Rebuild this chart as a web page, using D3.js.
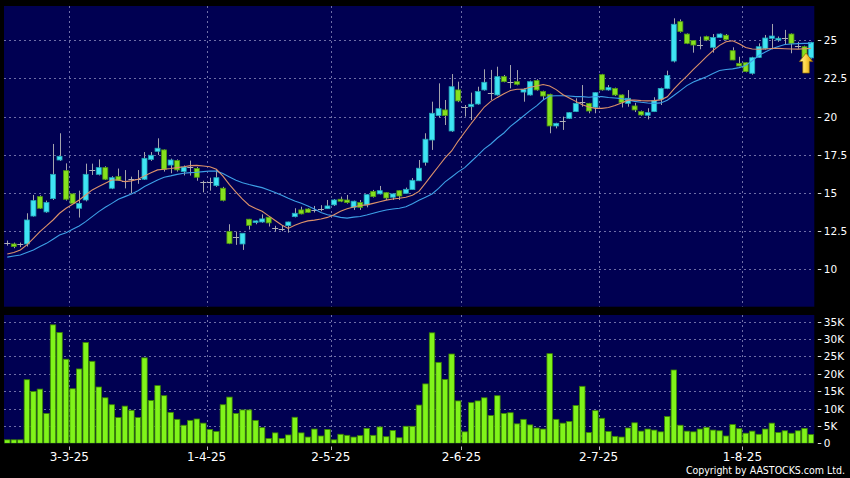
<!DOCTYPE html>
<html><head><meta charset="utf-8">
<script src="https://cdn.jsdelivr.net/npm/d3@7"></script>
<style>
html,body{margin:0;padding:0;background:#000;}
svg{display:block;}
text{font-family:"DejaVu Sans",Verdana,sans-serif;fill:#fff;}
text.copy{font-family:"Liberation Sans Narrow","DejaVu Sans Condensed",sans-serif;}
</style></head><body>
<svg id="c" width="850" height="478"></svg>
<script>
const opens=[11.70,11.66,11.64,11.66,13.49,14.76,13.76,14.63,17.16,16.46,
14.94,14.00,14.54,16.50,16.22,16.66,15.31,16.07,15.79,15.92,
15.92,15.90,17.20,17.73,17.82,16.83,17.12,16.40,16.68,16.60,
15.72,15.72,15.48,15.31,12.47,12.10,11.66,13.28,13.06,13.10,
13.41,12.69,12.66,12.86,13.45,13.89,13.95,13.89,13.97,13.97,
14.22,14.59,14.54,14.06,14.37,14.22,15.09,14.94,15.02,14.72,
15.15,14.98,15.22,15.80,17.01,18.47,20.07,20.44,19.06,21.75,
20.61,20.65,20.83,21.75,21.57,21.42,22.62,22.29,22.29,21.61,
21.42,22.36,21.64,21.46,19.39,19.72,19.89,20.33,20.98,20.87,
20.61,22.75,21.75,21.85,21.42,20.87,20.70,20.33,20.09,20.33,
21.13,21.85,23.64,26.22,25.41,24.98,24.71,25.24,24.54,25.19,
25.33,24.32,23.49,23.53,22.84,23.88,24.45,25.13,25.02,25.13,
25.41,24.65,24.58,23.85];
const highs=[11.88,11.75,11.75,13.67,14.87,14.85,14.50,18.21,18.91,16.94,
14.98,15.15,16.92,16.92,17.20,16.75,16.10,16.60,16.50,16.07,
16.50,17.68,17.68,18.58,17.85,17.25,17.20,16.80,17.12,16.70,
15.80,16.00,16.50,15.40,12.95,12.47,12.36,13.30,13.20,13.60,
13.45,12.85,12.85,13.12,14.00,14.10,14.00,14.15,14.20,14.54,
14.60,14.76,14.87,14.50,14.54,14.92,15.20,15.46,15.05,14.98,
15.18,15.35,15.98,17.16,18.91,20.98,22.18,21.09,22.79,22.29,
20.76,21.57,21.96,23.10,23.06,23.27,22.73,23.38,23.05,21.85,
22.36,22.45,21.70,21.50,19.60,20.00,20.30,21.20,22.07,20.90,
21.60,22.80,22.07,21.90,21.45,21.74,20.90,20.40,20.55,21.27,
21.90,23.01,26.44,26.37,25.45,25.00,25.24,25.30,25.41,25.45,
25.41,24.54,23.92,23.55,23.92,24.80,25.35,26.07,25.25,25.68,
25.45,24.90,24.65,24.90];
const lows=[11.55,11.38,11.45,11.49,13.45,13.95,13.70,14.54,17.10,14.50,
14.30,13.39,14.45,16.18,16.15,15.85,15.25,15.80,15.30,14.98,
15.60,15.85,17.10,17.49,16.40,16.29,16.40,16.15,16.14,15.80,
15.04,15.15,15.40,14.45,11.65,11.60,11.27,12.60,12.95,13.05,
12.80,12.47,12.50,12.40,13.40,13.60,13.70,13.72,13.80,13.95,
14.15,14.40,14.30,13.89,13.89,14.06,14.70,14.90,14.54,14.54,
14.54,14.95,15.20,15.78,16.79,17.82,19.95,19.45,19.00,20.95,
20.00,19.78,20.78,21.70,21.09,21.38,22.25,21.85,22.05,20.98,
21.38,21.70,21.09,18.91,19.23,19.13,19.85,20.30,20.65,20.22,
20.22,21.70,21.70,21.35,20.60,20.65,20.30,20.05,19.82,20.30,
20.76,21.80,23.55,25.50,24.75,24.19,24.41,24.95,24.19,25.15,
25.00,23.70,23.30,22.90,22.75,23.85,24.40,24.41,24.90,24.69,
24.15,24.45,23.80,23.80];
const closes=[11.70,11.49,11.64,13.23,14.50,14.00,14.37,16.22,17.40,14.59,
14.32,14.32,16.22,16.50,16.66,15.90,16.00,15.83,15.79,15.92,
15.92,17.27,17.47,17.93,16.55,17.16,16.51,16.70,16.68,16.03,
15.72,15.72,16.00,14.52,11.70,12.10,12.36,12.88,13.17,13.30,
13.04,12.69,12.66,13.10,13.67,13.63,13.73,13.89,13.97,14.15,
14.54,14.46,14.37,14.46,14.06,14.89,14.76,15.15,14.67,14.94,
14.80,15.24,15.83,16.62,18.52,20.22,20.52,20.07,21.96,21.03,
20.61,20.81,21.64,22.25,21.57,22.62,22.29,22.29,22.12,21.79,
22.29,21.75,21.35,19.39,19.56,19.72,20.26,20.87,20.98,20.37,
21.57,21.75,21.90,21.42,20.92,21.20,20.44,20.11,20.26,21.05,
21.85,22.70,26.05,25.57,24.80,24.69,24.71,25.02,25.19,25.41,
25.06,23.71,23.32,22.95,23.86,24.58,25.15,25.28,25.13,25.13,
24.80,24.65,23.88,24.85];
// volume in thousands
const volumes=[1.0,1.0,1.0,18.3,14.9,15.6,8.6,34.1,31.9,24.2,
15.7,21.4,29.0,23.6,16.2,13.1,11.1,7.4,10.7,9.5,
7.4,24.6,12.3,16.6,13.7,8.9,6.9,5.2,6.6,7.0,
5.8,4.0,3.4,11.1,13.3,8.6,9.6,9.6,6.6,4.5,
1.4,3.0,1.4,2.4,7.5,3.0,1.8,4.1,2.1,4.0,
1.0,2.6,2.3,1.8,2.2,4.3,2.3,4.7,1.9,3.7,
1.6,4.9,4.9,11.0,17.1,31.8,23.3,18.4,25.7,12.2,
3.3,11.7,12.2,13.1,8.0,13.7,8.6,8.8,5.6,6.9,
5.3,4.4,4.1,25.8,6.9,5.8,6.3,10.9,16.4,3.1,
9.4,7.2,3.4,2.0,1.8,4.4,5.9,3.5,4.1,3.8,
3.3,7.7,21.1,5.2,3.5,3.3,4.1,4.6,3.8,3.6,
2.1,5.4,4.2,2.9,3.5,2.6,4.1,5.8,3.1,3.6,
2.9,3.6,4.3,2.5];
const maShort=[11.00,11.10,11.27,11.60,12.03,12.47,12.84,13.23,13.67,14.00,
14.26,14.54,14.87,15.20,15.42,15.63,15.85,15.85,15.74,15.79,
15.90,16.12,16.33,16.51,16.55,16.60,16.66,16.72,16.79,16.81,
16.77,16.72,16.55,16.10,15.55,15.05,14.60,14.20,13.98,13.80,
13.50,13.20,12.90,12.68,12.88,13.05,13.17,13.22,13.29,13.40,
13.58,13.80,13.97,14.08,14.18,14.22,14.32,14.43,14.53,14.60,
14.65,14.72,14.85,15.10,15.65,16.20,16.75,17.30,17.75,18.40,
18.98,19.55,20.10,20.63,21.00,21.26,21.50,21.71,21.79,21.79,
21.92,22.01,22.10,22.01,21.77,21.45,21.22,21.00,20.78,20.63,
20.54,20.54,20.60,20.73,20.90,21.08,21.09,21.05,21.03,21.05,
21.10,21.30,21.80,22.25,22.65,23.10,23.50,23.93,24.32,24.67,
24.90,24.97,24.78,24.53,24.43,24.41,24.43,24.46,24.47,24.45,
24.43,24.42,24.45,24.47];
const maLong=[10.80,10.87,10.94,11.10,11.27,11.49,11.70,11.97,12.25,12.40,
12.62,12.84,13.12,13.45,13.78,14.06,14.32,14.59,14.76,14.94,
15.15,15.42,15.63,15.85,16.03,16.12,16.22,16.29,16.33,16.36,
16.40,16.44,16.43,16.28,16.05,15.83,15.67,15.55,15.45,15.35,
15.20,15.03,14.85,14.65,14.47,14.32,14.15,13.95,13.72,13.57,
13.50,13.40,13.35,13.42,13.46,13.56,13.67,13.78,13.88,13.95,
14.00,14.10,14.30,14.52,14.72,14.93,15.30,15.73,16.05,16.38,
16.66,17.06,17.46,17.89,18.21,18.60,18.93,19.36,19.70,20.04,
20.39,20.70,21.09,21.35,21.37,21.37,21.35,21.31,21.31,21.27,
21.31,21.31,21.25,21.22,21.18,21.10,21.00,20.94,20.89,20.87,
20.90,21.08,21.38,21.70,22.03,22.27,22.44,22.62,22.82,23.02,
23.09,23.13,23.21,23.35,23.66,24.00,24.23,24.44,24.60,24.72,
24.76,24.78,24.80,24.80];
const priceTicks=[10,12.5,15,17.5,20,22.5,25];
const priceTickLabels=["10","12.5","15","17.5","20","22.5","25"];
const volTicks=[0,5,10,15,20,25,30,35];
const volTickLabels=["0","5K","10K","15K","20K","25K","30K","35K"];
const monthStartIdx=[10,31,50,70,91,113];
const monthLabels=["3-3-25","1-4-25","2-5-25","2-6-25","2-7-25","1-8-25"];

const n=closes.length;
const svg=d3.select("#c");
const W=850,H=478;
const PL=4,PR=814.3;
const M={top:6,bottom:306.7}, V={top:315,bottom:443.3};

const x=d3.scaleBand().domain(d3.range(n)).range([PL,PR]).padding(0);
const step=x.bandwidth();
const cx=i=>x(i)+step/2;
const y=d3.scaleLinear().domain([10,25]).range([269.3,40.3]);
const yv=d3.scaleLinear().domain([0,35]).range([443.3,321.7]);

svg.append("rect").attr("width",W).attr("height",H).attr("fill","#000");

const defs=svg.append("defs");
defs.append("clipPath").attr("id","cm").append("rect").attr("x",PL).attr("y",M.top).attr("width",PR-PL).attr("height",M.bottom-M.top);
defs.append("clipPath").attr("id","cv").append("rect").attr("x",PL).attr("y",V.top).attr("width",PR-PL).attr("height",V.bottom-V.top);
const grad=defs.append("linearGradient").attr("id","ag").attr("x1",0).attr("y1",0).attr("x2",1).attr("y2",0);
grad.append("stop").attr("offset","0%").attr("stop-color","#fff2a0");
grad.append("stop").attr("offset","45%").attr("stop-color","#ffd84a");
grad.append("stop").attr("offset","100%").attr("stop-color","#d99a00");

// panels
svg.append("rect").attr("x",PL).attr("y",M.top).attr("width",PR-PL).attr("height",M.bottom-M.top).attr("fill","#000052");
svg.append("rect").attr("x",PL).attr("y",V.top).attr("width",PR-PL).attr("height",V.bottom-V.top).attr("fill","#000052");

const gridColor="#6e6ea6";
// main grid
const gm=svg.append("g").attr("clip-path","url(#cm)");
gm.selectAll("line.h").data(priceTicks).join("line")
  .attr("x1",PL).attr("x2",PR).attr("y1",d=>Math.round(y(d))+0.5).attr("y2",d=>Math.round(y(d))+0.5)
  .attr("stroke",gridColor).attr("stroke-width",1).attr("stroke-dasharray","2,3");
gm.selectAll("line.v").data(monthStartIdx).join("line")
  .attr("x1",d=>Math.round(x(d))+0.5).attr("x2",d=>Math.round(x(d))+0.5).attr("y1",M.top).attr("y2",M.bottom)
  .attr("stroke",gridColor).attr("stroke-width",1).attr("stroke-dasharray","2,3");
// volume grid
const gv=svg.append("g").attr("clip-path","url(#cv)");
gv.selectAll("line.h").data(volTicks.filter(d=>d>0)).join("line")
  .attr("x1",PL).attr("x2",PR).attr("y1",d=>Math.round(yv(d))+0.5).attr("y2",d=>Math.round(yv(d))+0.5)
  .attr("stroke",gridColor).attr("stroke-width",1).attr("stroke-dasharray","2,3");
gv.selectAll("line.v").data(monthStartIdx).join("line")
  .attr("x1",d=>Math.round(x(d))+0.5).attr("x2",d=>Math.round(x(d))+0.5).attr("y1",V.top).attr("y2",V.bottom)
  .attr("stroke",gridColor).attr("stroke-width",1).attr("stroke-dasharray","2,3");

// volume bars
const bw=step-1.1;
gv.selectAll("rect.vol").data(volumes).join("rect")
  .attr("x",(d,i)=>cx(i)-bw/2).attr("y",d=>yv(d)).attr("width",bw).attr("height",d=>yv(0)-yv(d))
  .attr("fill","#80f41a").attr("stroke","#3b8400").attr("stroke-width",0.8);

// candles
const cw=5.0;
const data=d3.range(n).map(i=>({i,o:opens[i],h:highs[i],l:lows[i],c:closes[i]}));
const gc=gm.append("g");
gc.selectAll("line.wick").data(data).join("line")
  .attr("x1",d=>Math.round(cx(d.i))+0.5).attr("x2",d=>Math.round(cx(d.i))+0.5)
  .attr("y1",d=>y(d.h)).attr("y2",d=>y(d.l)).attr("stroke","#a4a4ac").attr("stroke-width",1);
const bodies=data.filter(d=>d.o!==d.c);
gc.selectAll("rect.body").data(bodies).join("rect")
  .attr("x",d=>cx(d.i)-cw/2).attr("y",d=>y(Math.max(d.o,d.c)))
  .attr("width",cw).attr("height",d=>Math.max(1,Math.abs(y(d.o)-y(d.c))))
  .attr("fill",d=>d.c>d.o?"#3fe4f4":"#86e01e")
  .attr("stroke",d=>d.c>d.o?"#22a8b8":"#4e9810").attr("stroke-width",0.8);
const dojis=data.filter(d=>d.o===d.c);
gc.selectAll("line.doji").data(dojis).join("line")
  .attr("x1",d=>cx(d.i)-cw/2-0.5).attr("x2",d=>cx(d.i)+cw/2+0.5)
  .attr("y1",d=>Math.round(y(d.c))+0.5).attr("y2",d=>Math.round(y(d.c))+0.5)
  .attr("stroke","#b0b0b8").attr("stroke-width",1);

// moving averages
const lineGen=d3.line().x((d,i)=>cx(i)).y(d=>y(d)).curve(d3.curveLinear);
gm.append("path").datum(maLong).attr("d",lineGen).attr("fill","none").attr("stroke","#3d9fe6").attr("stroke-width",1.1);
gm.append("path").datum(maShort).attr("d",lineGen).attr("fill","none").attr("stroke","#dc916a").attr("stroke-width",1.1);

// arrow marker under the last candle
const ax=cx(n-1)-5, ay=y(closes[n-1])+10.5;
svg.append("path")
  .attr("d",`M${ax},${ay} L${ax+6.7},${ay+8.5} L${ax+3.3},${ay+8.5} L${ax+3.3},${ay+20} L${ax-3.3},${ay+20} L${ax-3.3},${ay+8.5} L${ax-6.7},${ay+8.5} Z`)
  .attr("fill","url(#ag)").attr("stroke","#8a6400").attr("stroke-width",0.7);

// right axis ticks and labels
const axisX=PR+3.5;
svg.selectAll("line.pt").data(priceTicks).join("line")
  .attr("x1",axisX).attr("x2",axisX+3.5).attr("y1",d=>Math.round(y(d))+0.5).attr("y2",d=>Math.round(y(d))+0.5)
  .attr("stroke","#ddd").attr("stroke-width",1);
svg.selectAll("text.pt").data(priceTicks).join("text")
  .attr("x",axisX+6).attr("y",d=>y(d)+4).attr("font-size","10.5px").text((d,i)=>priceTickLabels[i]);
svg.selectAll("line.vt").data(volTicks).join("line")
  .attr("x1",axisX).attr("x2",axisX+3.5).attr("y1",d=>Math.round(yv(d))+0.5).attr("y2",d=>Math.round(yv(d))+0.5)
  .attr("stroke","#ddd").attr("stroke-width",1);
svg.selectAll("text.vt").data(volTicks).join("text")
  .attr("x",axisX+6).attr("y",d=>yv(d)+4).attr("font-size","10.5px").text((d,i)=>volTickLabels[i]);

// bottom date axis
svg.selectAll("line.dt").data(monthStartIdx).join("line")
  .attr("x1",d=>Math.round(x(d))+0.5).attr("x2",d=>Math.round(x(d))+0.5).attr("y1",446.5).attr("y2",450)
  .attr("stroke","#bbb").attr("stroke-width",1);
svg.selectAll("text.dt").data(monthStartIdx).join("text")
  .attr("x",d=>x(d)).attr("y",461).attr("text-anchor","middle").attr("font-size","12px")
  .text((d,i)=>monthLabels[i]);

svg.append("text").attr("class","copy").attr("x",845).attr("y",474).attr("text-anchor","end")
  .attr("font-size","10.5px")
  .text("Copyright by AASTOCKS.com Ltd.");
</script>
</body></html>
